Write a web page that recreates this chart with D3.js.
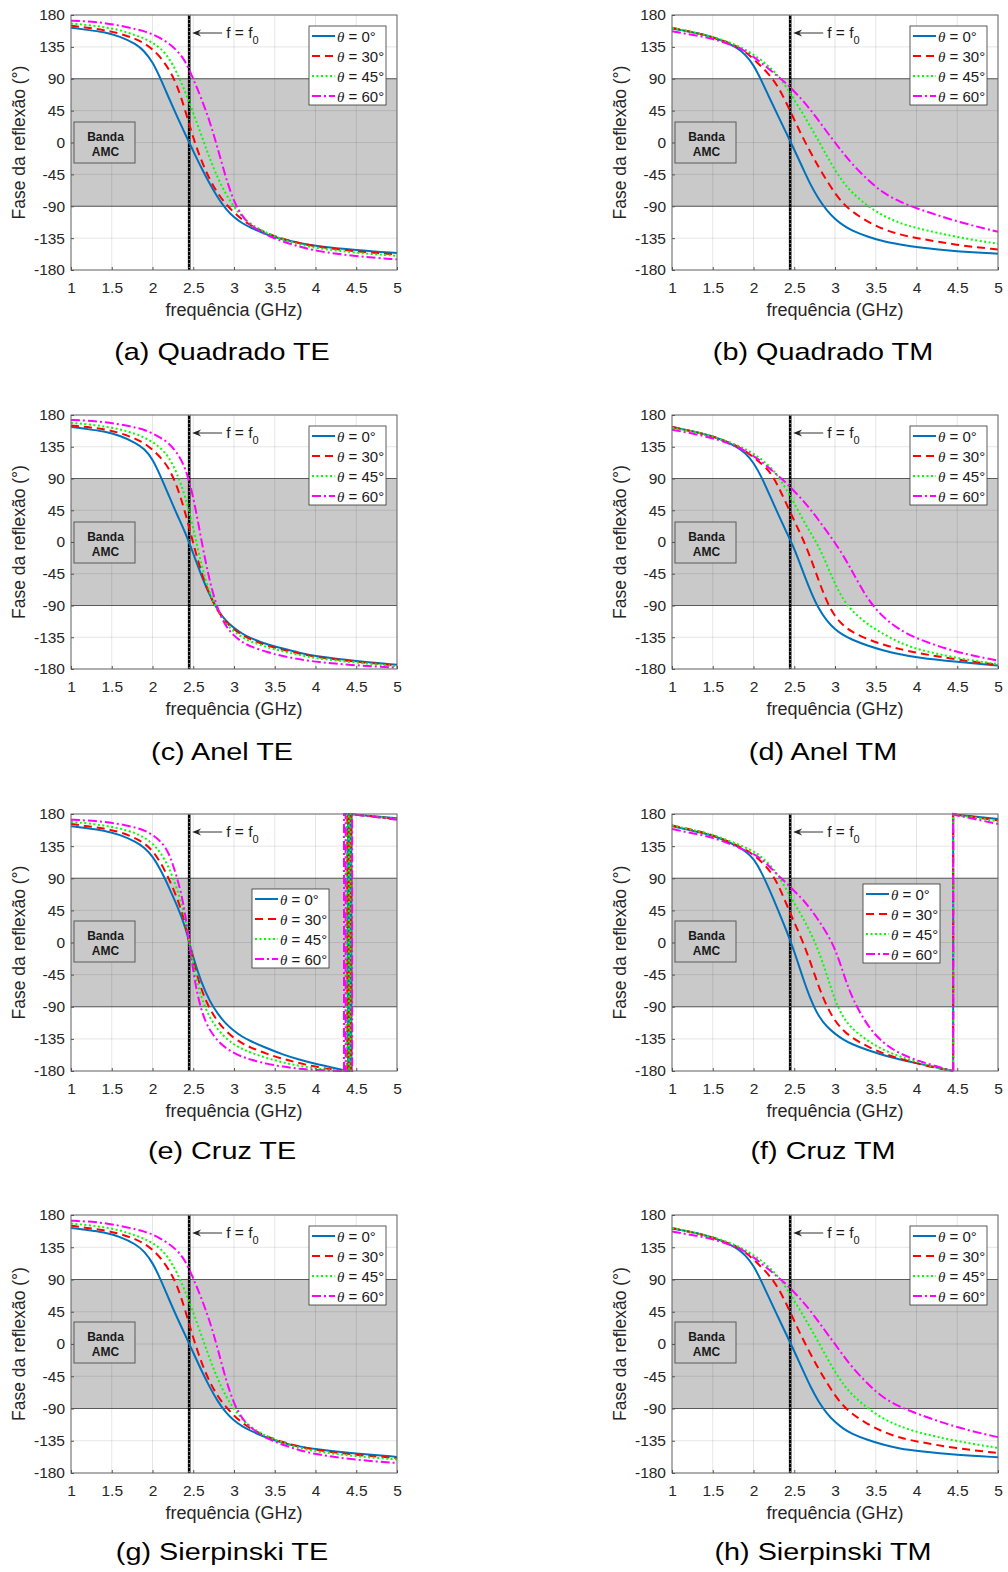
<!DOCTYPE html>
<html>
<head>
<meta charset="utf-8">
<script src="https://cdn.jsdelivr.net/npm/d3@7"></script>
<style>
  body { margin: 0; background: #fff; }
  svg text { font-family: "Liberation Sans", Arial, Helvetica, sans-serif; }
</style>
</head>
<body>
<svg id="fig" width="1008" height="1572"></svg>
<script>
// ---- data ----
const xTicks = [1, 1.5, 2, 2.5, 3, 3.5, 4, 4.5, 5];
const yTicks = [-180, -135, -90, -45, 0, 45, 90, 135, 180];
const angles = ['0°', '30°', '45°', '60°'];
const f0 = 2.45;

const freqs = [1, 1.2, 1.4, 1.6, 1.8, 1.9, 2, 2.1, 2.2, 2.3, 2.4, 2.5, 2.6, 2.7, 2.8, 2.9, 3, 3.1, 3.2, 3.4, 3.6, 3.8, 4, 4.5, 5];
const freqsCruz = [1, 1.2, 1.4, 1.6, 1.8, 1.9, 2, 2.1, 2.2, 2.3, 2.4, 2.5, 2.6, 2.7, 2.8, 2.9, 3, 3.1, 3.2, 3.4, 3.6, 3.8, 4, 4.2];
const endFreqs = [4.5, 5];

const quadradoTE = [
  [162, 159, 156, 150, 139, 129, 114, 90, 63, 37, 12, -12, -36, -58, -78, -94, -106, -114, -120, -130, -137, -142, -146, -152, -156],
  [165, 162, 159, 154, 146, 140, 132, 120, 104, 82, 46, 6, -26, -52, -72, -87, -99, -109, -117, -128, -136, -142, -147, -154, -158],
  [168, 166, 163, 159, 151, 147, 141, 133, 120, 99, 72, 42, 10, -22, -50, -73, -91, -105, -115, -128, -137, -144, -149, -156, -160],
  [172, 171, 169, 165, 160, 157, 153, 147, 140, 130, 116, 90, 62, 31, -8, -50, -84, -104, -117, -131, -140, -147, -153, -161, -165]
];
const quadradoTM = [
  [161, 157, 152, 145, 134, 124, 110, 87, 62, 38, 14, -10, -35, -60, -80, -96, -108, -117, -124, -133, -140, -144, -148, -154, -157],
  [162, 157, 152, 145, 136, 128, 118, 107, 95, 79, 57, 32, 8, -14, -35, -54, -72, -86, -97, -112, -123, -130, -135, -145, -151],
  [162, 157, 152, 146, 137, 131, 124, 116, 106, 95, 79, 60, 42, 22, 2, -19, -39, -56, -70, -90, -104, -114, -121, -134, -143],
  [157, 153, 149, 143, 135, 129, 121, 112, 103, 93, 84, 72, 60, 46, 31, 15, 0, -15, -29, -53, -72, -84, -93, -112, -126]
];
const anelTE = [
  [163, 160, 157, 151, 140, 132, 118, 93, 66, 39, 14, -16, -48, -75, -97, -112, -122, -130, -136, -145, -151, -157, -162, -169, -174],
  [165, 163, 160, 155, 146, 140, 131, 120, 105, 80, 43, -2, -44, -75, -98, -114, -124, -132, -138, -147, -153, -158, -163, -170, -175],
  [169, 167, 164, 160, 153, 148, 142, 133, 121, 98, 66, 21, -34, -72, -98, -116, -127, -135, -141, -149, -155, -160, -165, -171, -176],
  [173, 172, 170, 167, 162, 159, 154, 148, 140, 127, 107, 66, 2, -56, -96, -120, -133, -142, -148, -156, -162, -166, -170, -175, -178]
];
const anelTM = [
  [163, 158, 153, 146, 135, 126, 113, 92, 66, 40, 15, -9, -40, -70, -95, -112, -124, -132, -138, -147, -154, -159, -164, -170, -175],
  [163, 158, 153, 146, 136, 129, 120, 111, 100, 80, 55, 30, 6, -22, -55, -85, -106, -118, -127, -138, -146, -152, -157, -167, -174],
  [162, 158, 153, 146, 137, 132, 125, 117, 107, 94, 75, 55, 33, 13, -6, -32, -60, -81, -97, -117, -131, -143, -152, -165, -173],
  [159, 155, 150, 144, 135, 129, 122, 114, 104, 94, 84, 72, 60, 46, 31, 15, -1, -19, -39, -82, -108, -125, -137, -157, -168]
];
const cruzTE = [
  [163, 160, 157, 151, 141, 133, 121, 102, 78, 52, 24, -22, -56, -82, -100, -114, -124, -132, -138, -148, -157, -164, -170, -175],
  [166, 163, 160, 155, 146, 139, 129, 112, 90, 63, 30, -28, -67, -93, -111, -124, -134, -141, -147, -156, -163, -169, -174, -178],
  [169, 167, 164, 160, 153, 147, 139, 126, 106, 76, 38, -33, -79, -105, -122, -134, -143, -149, -154, -162, -168, -173, -176, -179],
  [172, 171, 169, 166, 161, 157, 151, 142, 127, 92, 48, -46, -98, -123, -138, -148, -155, -160, -164, -170, -174, -177, -178.5, -179.5]
];
const cruzTEJumps = [[4.40, 4.42, 4.44], [4.39, 4.41, 4.44], [4.38, 4.41, 4.43], [4.35, 4.37, 4.45]];
const cruzTEEnd = [[179, 174], [179, 173], [179, 173], [179, 172]];
const cruzTM = [
  [163, 158, 153, 146, 135, 128, 118, 98, 73, 46, 18, -12, -48, -80, -104, -118, -128, -136, -142, -151, -158, -164, -169, -174],
  [164, 159, 154, 146, 136, 130, 123, 113, 101, 82, 55, 28, 3, -28, -62, -90, -110, -123, -133, -146, -156, -163, -169, -175],
  [164, 159, 154, 147, 138, 133, 128, 120, 109, 95, 75, 55, 36, 14, -12, -45, -82, -105, -120, -138, -151, -160, -167, -174],
  [159, 154, 150, 143, 134, 129, 124, 117, 106, 94, 84, 72, 61, 47, 31, 13, -8, -42, -76, -118, -142, -156, -165, -172]
];
const cruzTMJumps = [[4.45], [4.45], [4.45], [4.45]];
const cruzTMEnd = [[179, 173], [179, 171], [178.5, 170], [178, 166]];
const sierpinskiTE = [
  [162, 159, 156, 150, 139, 129, 114, 90, 63, 37, 13, -12, -37, -60, -80, -96, -107, -115, -121, -131, -138, -143, -147, -153, -157.5],
  [165, 162, 159, 154, 146, 140, 132, 120, 104, 83, 48, 8, -26, -53, -73, -88, -100, -110, -118, -129, -137, -143, -148, -155, -159],
  [168, 166, 163, 159, 151, 147, 141, 133, 120, 100, 74, 44, 12, -20, -49, -73, -91, -105, -116, -129, -138, -145, -150, -157, -161],
  [172, 171, 169, 165, 160, 157, 153, 147, 140, 131, 117, 92, 64, 33, -6, -50, -84, -104, -117, -132, -141, -148, -154, -162, -166]
];
const sierpinskiTM = [
  [161, 157, 152, 145, 134, 124, 110, 87, 62, 38, 14, -10, -35, -60, -81, -97, -109, -118, -125, -134, -141, -146, -149, -155, -158],
  [162, 157, 152, 145, 136, 128, 118, 107, 95, 79, 57, 32, 8, -14, -35, -54, -72, -86, -97, -112, -123, -131, -136, -146, -152],
  [162, 157, 152, 146, 137, 131, 124, 116, 106, 95, 79, 60, 42, 22, 2, -19, -39, -56, -70, -90, -105, -115, -123, -136, -145],
  [157, 153, 149, 143, 135, 129, 121, 112, 103, 93, 84, 72, 60, 46, 31, 15, 0, -16, -31, -56, -76, -88, -97, -117, -130]
];

// ---- layout ----
const colX = [71, 672];
const rowY = [15, 415, 814, 1215];
const rowH = [255, 254, 257, 258];
const W = 326;

const lineStyles = [
  {color: '#0072BD', dash: null},
  {color: '#FF0000', dash: '8,5'},
  {color: '#00FF00', dash: '2,2.5'},
  {color: '#FF00FF', dash: '9,3,2,3'}
];

const panels = [
  {caption: '(a) Quadrado TE', col: 0, row: 0, freqs: freqs, series: quadradoTE, legend: [238, 11]},
  {caption: '(b) Quadrado TM', col: 1, row: 0, freqs: freqs, series: quadradoTM, legend: [238, 11]},
  {caption: '(c) Anel TE', col: 0, row: 1, freqs: freqs, series: anelTE, legend: [238, 11]},
  {caption: '(d) Anel TM', col: 1, row: 1, freqs: freqs, series: anelTM, legend: [238, 11]},
  {caption: '(e) Cruz TE', col: 0, row: 2, freqs: freqsCruz, series: cruzTE, jumps: cruzTEJumps, ends: cruzTEEnd, legend: [181, 75]},
  {caption: '(f) Cruz TM', col: 1, row: 2, freqs: freqsCruz, series: cruzTM, jumps: cruzTMJumps, ends: cruzTMEnd, legend: [191, 70]},
  {caption: '(g) Sierpinski TE', col: 0, row: 3, freqs: freqs, series: sierpinskiTE, legend: [238, 11]},
  {caption: '(h) Sierpinski TM', col: 1, row: 3, freqs: freqs, series: sierpinskiTM, legend: [238, 11]}
];

const svg = d3.select('#fig');

function drawPanel(p, idx) {
  const H = rowH[p.row];
  const g = svg.append('g')
      .attr('transform', `translate(${colX[p.col]},${rowY[p.row]})`);

  const x = d3.scaleLinear().domain([1, 5]).range([0, W]);
  const y = d3.scaleLinear().domain([-180, 180]).range([H, 0]);

  g.append('rect')
      .attr('width', W).attr('height', H)
      .attr('fill', '#fff');

  // AMC band
  g.append('rect')
      .attr('x', 0).attr('y', y(90))
      .attr('width', W).attr('height', y(-90) - y(90))
      .attr('fill', '#c9c9c9');

  // grid
  g.append('g').selectAll('line').data(xTicks).join('line')
      .attr('x1', d => x(d)).attr('x2', d => x(d))
      .attr('y1', 0).attr('y2', H)
      .attr('stroke', '#000').attr('stroke-opacity', 0.1);
  g.append('g').selectAll('line').data(yTicks).join('line')
      .attr('x1', 0).attr('x2', W)
      .attr('y1', d => y(d)).attr('y2', d => y(d))
      .attr('stroke', '#000').attr('stroke-opacity', 0.1);

  // band edges
  g.selectAll('line.edge').data([90, -90]).join('line')
      .attr('class', 'edge')
      .attr('x1', 0).attr('x2', W)
      .attr('y1', d => y(d)).attr('y2', d => y(d))
      .attr('stroke', '#5a5a5a').attr('stroke-width', 1.2);

  // Banda AMC box
  g.append('rect')
      .attr('x', 3).attr('y', 107).attr('width', 61).attr('height', 41)
      .attr('fill', '#c9c9c9').attr('stroke', '#5a5a5a').attr('stroke-width', 1);
  g.append('text').attr('x', 34.5).attr('y', 125.5)
      .attr('text-anchor', 'middle').attr('font-size', '12px').attr('font-weight', 'bold')
      .attr('fill', '#1a1a1a').text('Banda');
  g.append('text').attr('x', 34.5).attr('y', 140.5)
      .attr('text-anchor', 'middle').attr('font-size', '12px').attr('font-weight', 'bold')
      .attr('fill', '#1a1a1a').text('AMC');

  // f = f0 marker
  const xf = x(f0);
  g.append('line')
      .attr('x1', xf).attr('x2', xf).attr('y1', 0).attr('y2', H)
      .attr('stroke', '#000').attr('stroke-width', 2.6);
  g.append('line')
      .attr('x1', xf).attr('x2', xf).attr('y1', 0).attr('y2', H)
      .attr('stroke', '#fff').attr('stroke-width', 0.8)
      .attr('stroke-dasharray', '1,3');

  // curves
  const clipId = 'clip' + idx;
  g.append('clipPath').attr('id', clipId)
    .append('rect').attr('x', -1).attr('y', -1.5).attr('width', W + 2).attr('height', H + 3);
  const plot = g.append('g').attr('clip-path', `url(#${clipId})`);

  const smooth = d3.line().x(d => x(d[0])).y(d => y(d[1])).curve(d3.curveBasis);
  const straight = d3.line().x(d => x(d[0])).y(d => y(d[1]));

  p.series.forEach((vals, i) => {
    const pts = p.freqs.map((f, k) => [f, vals[k]]);
    let tail = null;
    if (p.jumps) {
      // phase wraps between -180 and +180
      tail = [];
      let v = -180;
      p.jumps[i].forEach(j => { tail.push([j, v]); v = -v; tail.push([j, v]); });
      endFreqs.forEach((f, k) => tail.push([f, p.ends[i][k]]));
      pts.push(tail[0]);
    }
    const st = lineStyles[i];
    plot.append('path')
        .attr('d', smooth(pts))
        .attr('fill', 'none').attr('stroke', st.color).attr('stroke-width', 2)
        .attr('stroke-dasharray', st.dash);
    if (tail) {
      plot.append('path')
          .attr('d', straight(tail))
          .attr('fill', 'none').attr('stroke', st.color).attr('stroke-width', 2)
          .attr('stroke-dasharray', st.dash);
    }
  });

  // arrow annotation
  const ay = 18;
  g.append('line')
      .attr('x1', xf + 33).attr('x2', xf + 6).attr('y1', ay).attr('y2', ay)
      .attr('stroke', '#333').attr('stroke-width', 1);
  g.append('path')
      .attr('d', `M${xf + 3},${ay} L${xf + 12},${ay - 3.5} L${xf + 9},${ay} L${xf + 12},${ay + 3.5} Z`)
      .attr('fill', '#222');
  const ft = g.append('text')
      .attr('x', xf + 37).attr('y', ay + 4.5)
      .attr('font-size', '15.5px').attr('fill', '#1a1a1a');
  ft.append('tspan').text('f = f');
  ft.append('tspan').attr('dy', 6).attr('font-size', '11px').text('0');

  // axes box
  g.append('rect')
      .attr('width', W).attr('height', H)
      .attr('fill', 'none').attr('stroke', '#6a6a6a').attr('stroke-width', 1);

  const xAxis = g.append('g').attr('transform', `translate(0,${H})`)
      .call(d3.axisBottom(x).tickValues(xTicks).tickFormat(d => String(d))
        .tickSizeInner(-3).tickSizeOuter(0).tickPadding(12));
  const yAxis = g.append('g')
      .call(d3.axisLeft(y).tickValues(yTicks).tickFormat(d => String(d))
        .tickSizeInner(-3).tickSizeOuter(0).tickPadding(6));
  [xAxis, yAxis].forEach(a => {
    a.select('.domain').remove();
    a.selectAll('.tick line').attr('stroke', '#555');
    a.selectAll('.tick text')
        .attr('font-family', '"Liberation Sans", Arial, sans-serif')
        .attr('font-size', '15.5px').attr('fill', '#262626');
  });

  // axis labels
  g.append('text')
      .attr('x', W / 2).attr('y', H + 46)
      .attr('text-anchor', 'middle').attr('font-size', '18px').attr('fill', '#262626')
      .text('frequência (GHz)');
  g.append('text')
      .attr('transform', `translate(-46,${H / 2}) rotate(-90)`)
      .attr('text-anchor', 'middle').attr('font-size', '17.5px').attr('fill', '#262626')
      .text('Fase da reflexão (°)');

  // legend
  const lg = g.append('g').attr('transform', `translate(${p.legend[0]},${p.legend[1]})`);
  lg.append('rect')
      .attr('width', 77).attr('height', 79)
      .attr('fill', '#fff').attr('stroke', '#333').attr('stroke-width', 0.8);
  angles.forEach((a, i) => {
    const ly = 10 + i * 20;
    lg.append('line')
        .attr('x1', 3).attr('x2', 26).attr('y1', ly).attr('y2', ly)
        .attr('stroke', lineStyles[i].color).attr('stroke-width', 2)
        .attr('stroke-dasharray', lineStyles[i].dash);
    const t = lg.append('text')
        .attr('x', 28).attr('y', ly + 5.5)
        .attr('font-size', '15px').attr('fill', '#1a1a1a');
    t.append('tspan')
        .attr('font-family', '"Liberation Serif", "Times New Roman", serif')
        .attr('font-style', 'italic').text('θ');
    t.append('tspan').text(' = ' + a);
  });

  // caption
  g.append('text')
      .attr('transform', 'translate(151,345) scale(1.2,1)')
      .attr('text-anchor', 'middle').attr('font-size', '24px').attr('fill', '#000')
      .text(p.caption);
}

panels.forEach(drawPanel);
</script>
</body>
</html>
